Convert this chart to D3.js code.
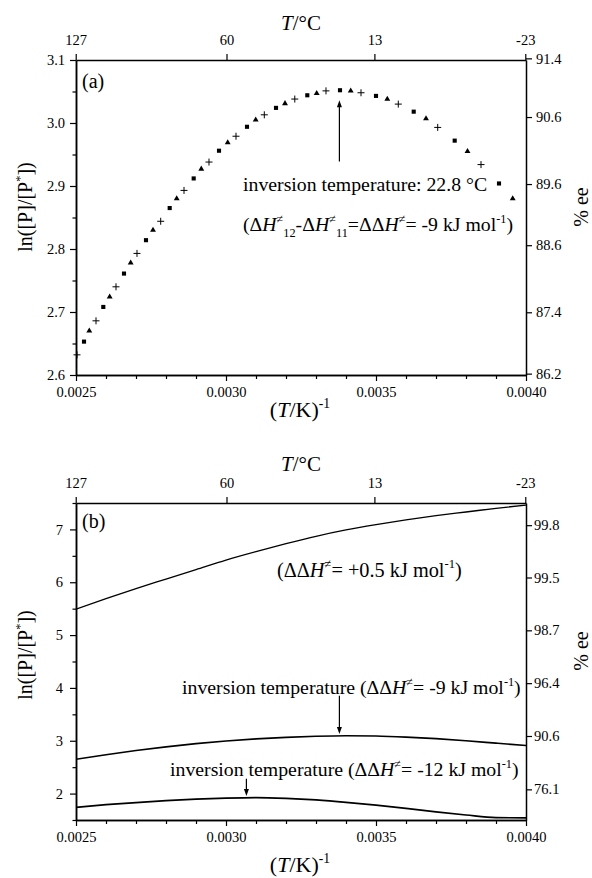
<!DOCTYPE html>
<html><head><meta charset="utf-8">
<script src="https://cdn.jsdelivr.net/npm/d3@7"></script>
<style>
body{margin:0;background:#fff}
svg, svg text, svg tspan{font-family:"Liberation Serif",serif !important;fill:#000}
</style>
</head><body>
<svg id="c" width="592" height="878"></svg>
<script>
// ---------------- DATA ----------------
// x axis: inverse temperature (1/K)
const xMajor = [0.0025, 0.0030, 0.0035, 0.0040];
const xMajorLabels = ["0.0025", "0.0030", "0.0035", "0.0040"];
const topTempC = [127, 60, 13, -23];
const topTempLabels = ["127", "60", "13", "-23"];

// Panel (a): experimental points (1/T, ln([P]/[P*])), marker types cycle
const invTA = [0.0025033,0.0025267,0.0025443,0.0025667,0.002591,0.0026123,0.0026333,0.00266,0.0026823,0.0027033,
  0.0027333,0.0027567,0.0027823,0.0028123,0.0028357,0.00286,0.0028923,0.0029177,0.0029433,0.0029767,
  0.0030057,0.0030333,0.00307,0.003099,0.0031277,0.0031667,0.0031967,0.0032293,0.003271,0.0033023,
  0.0033333,0.00338,0.0034157,0.00345,0.0035,0.0035377,0.0035743,0.0036257,0.0036667,0.0037057,
  0.0037623,0.003805,0.00385,0.00391,0.0039557];
const lnA = [2.632,2.653,2.670,2.686,2.708,2.724,2.740,2.761,2.778,2.793,
  2.814,2.830,2.844,2.865,2.880,2.893,2.912,2.927,2.938,2.956,
  2.969,2.979,2.994,3.005,3.013,3.024,3.031,3.038,3.044,3.047,
  3.051,3.052,3.051,3.048,3.043,3.038,3.030,3.018,3.007,2.993,
  2.972,2.955,2.934,2.904,2.880];
const markerCycle = ["plus", "square", "triangle"];
const yTicksA = [2.6, 2.7, 2.8, 2.9, 3.0, 3.1];
const eeTicksA = [91.4, 90.6, 89.6, 88.6, 87.4, 86.2];

// Panel (b): simulated curves
const invTB = [0.0025,0.0026,0.0027,0.0028,0.0029,0.0030,0.0031,0.0032,0.0033,0.0034,0.0035,0.0036,0.0037,0.0038,0.0039,0.0040];
const lnB_plus05 = [5.49,5.69,5.88,6.06,6.24,6.42,6.58,6.73,6.87,6.99,7.09,7.18,7.26,7.33,7.40,7.46];
const lnB_minus9 = [2.65,2.735,2.815,2.885,2.945,2.995,3.035,3.065,3.085,3.095,3.09,3.07,3.04,3.00,2.955,2.91];
const lnB_minus12 = [1.74,1.79,1.83,1.865,1.895,1.915,1.925,1.91,1.88,1.835,1.78,1.72,1.655,1.595,1.545,1.54];
const yTicksB = [2, 3, 4, 5, 6, 7];
const eeLabelsB = ["99.8", "99.5", "98.7", "96.4", "90.6", "76.1"];
const eeLnB = [7.08, 6.09, 5.09, 4.09, 3.09, 2.08];

// ---------------- DRAW ----------------
const FONT = '"Liberation Serif", serif';
const svg = d3.select("#c");
const L = 76, R = 526;
const x = d3.scaleLinear().domain([0.0025, 0.0040]).range([L, R]);
const xMinor = d3.range(26, 40).map(i => i / 10000).filter(v => !xMajor.some(m => Math.abs(m - v) < 1e-9));
const topTicks = topTempC.map(t => 1 / (t + 273.15));

function styleAxis(sel, fs) {
  sel.attr("font-family", null).attr("font-size", fs);
  sel.select(".domain").attr("stroke", "#000").attr("stroke-width", 1.5);
  sel.selectAll(".tick line").attr("stroke", "#000").attr("stroke-width", 1.2);
  sel.selectAll("text").attr("fill", "#000").style("font-family", FONT).style("font-size", fs + "px");
}

function rich(parent, xp, yp, size, segs, anchor) {
  const t = parent.append("text").attr("x", xp).attr("y", yp).attr("font-size", size).style("font-family", FONT);
  if (anchor) t.attr("text-anchor", anchor);
  let off = 0;
  segs.forEach(([s, k]) => {
    const target = k === "sup" ? -0.42 * size : k === "sub" ? 0.28 * size : 0;
    const ts = t.append("tspan").text(s).attr("dy", target - off);
    off = target;
    if (k === "sup" || k === "sub") ts.attr("font-size", size * 0.62);
    if (k === "i") ts.attr("font-style", "italic");
  });
  return t;
}

function frame(y, top, bottom, yTicks, yMinor, yPad, rightTicks, rightLabels, rightPad, yFmt) {
  const g = svg.append("g");
  g.append("g").attr("transform", `translate(0,${bottom})`)
    .call(d3.axisBottom(x).tickValues(xMinor).tickFormat("").tickSize(4).tickSizeOuter(0))
    .call(s => styleAxis(s, 14.5));
  g.append("g").attr("transform", `translate(0,${bottom})`)
    .call(d3.axisBottom(x).tickValues(xMajor).tickFormat((d, i) => xMajorLabels[i]).tickSize(6).tickPadding(6).tickSizeOuter(0))
    .call(s => styleAxis(s, 14.5));
  g.append("g").attr("transform", `translate(0,${top})`)
    .call(d3.axisTop(x).tickValues(topTicks).tickFormat((d, i) => topTempLabels[i]).tickSize(6).tickPadding(9).tickSizeOuter(0))
    .call(s => styleAxis(s, 14.5));
  g.append("g").attr("transform", `translate(${L},0)`)
    .call(d3.axisLeft(y).tickValues(yMinor).tickFormat("").tickSize(3.5).tickSizeOuter(0))
    .call(s => styleAxis(s, 14.5));
  g.append("g").attr("transform", `translate(${L},0)`)
    .call(d3.axisLeft(y).tickValues(yTicks).tickFormat(d3.format(yFmt)).tickSize(6).tickPadding(yPad).tickSizeOuter(0))
    .call(s => styleAxis(s, 14.5));
  g.append("g").attr("transform", `translate(${R},0)`)
    .call(d3.axisRight(y).tickValues(rightTicks).tickFormat((d, i) => rightLabels[i]).tickSize(6).tickPadding(rightPad).tickSizeOuter(0))
    .call(s => styleAxis(s, 14.5));
  return g;
}

function arrow(g, ys, a) {
  const xp = x(a.x), y0 = ys(a.from), y1 = ys(a.to);
  const dir = y1 < y0 ? 1 : -1;
  g.append("line").attr("x1", xp).attr("x2", xp).attr("y1", y0).attr("y2", y1 + dir * 5)
    .attr("stroke", "#000").attr("stroke-width", 1.2);
  g.append("path").attr("d", `M${xp},${y1}L${xp - 2.5},${y1 + dir * 7}L${xp + 2.5},${y1 + dir * 7}Z`).attr("fill", "#000");
}

// ---------- Panel (a) ----------
const ya = d3.scaleLinear().domain([2.6, 3.1]).range([375, 60]);
const eeToLn = e => Math.log((100 + e) / (100 - e));
const yMinorA = [2.65, 2.75, 2.85, 2.95, 3.05];
frame(ya, 60, 375, yTicksA, yMinorA, 5, eeTicksA.map(eeToLn), eeTicksA.map(d => d.toFixed(1)), 4, ".1f");

const ptsA = invTA.map((v, i) => ({ x: v, y: lnA[i], m: markerCycle[i % 3] }));
const gA = svg.append("g");
gA.selectAll("path.pt").data(ptsA).join("path")
  .attr("class", "pt")
  .attr("transform", d => `translate(${x(d.x)},${ya(d.y)})`)
  .attr("d", d => d.m === "square" ? d3.symbol(d3.symbolSquare, 17)() :
                  d.m === "triangle" ? d3.symbol(d3.symbolTriangle, 15)() :
                  "M-3.5,0H3.5M0,-3.5V3.5")
  .attr("fill", d => d.m === "plus" ? "none" : "#000")
  .attr("stroke", d => d.m === "plus" ? "#000" : "none")
  .attr("stroke-width", 1);

const arrowA = { x: 0.003378, from: 2.939, to: 3.036 };
arrow(gA, ya, arrowA);

const TS = 19.8;
svg.append("text").attr("x", 82).attr("y", 88).attr("font-size", 20).style("font-family", FONT).text("(a)");
rich(svg, 243, 191, TS, [["inversion temperature: 22.8 °C", "n"]]);
rich(svg, 243, 231, TS, [["(Δ", "n"], ["H", "i"], ["≠", "sup"], ["12", "sub"], ["-Δ", "n"], ["H", "i"], ["≠", "sup"], ["11", "sub"],
  ["=ΔΔ", "n"], ["H", "i"], ["≠", "sup"], ["= -9 kJ mol", "n"], ["-1", "sup"], [")", "n"]]);

rich(svg, 301, 30, 21, [["T", "i"], ["/°C", "n"]], "middle");
rich(svg, 300, 417, 22, [["(", "n"], ["T", "i"], ["/K)", "n"], ["-1", "sup"]], "middle");
rich(svg.append("g").attr("transform", "translate(32,207) rotate(-90)"), 0, 0, 20, [["ln([P]/[P", "n"], ["*", "sup"], ["])", "n"]], "middle");
rich(svg.append("g").attr("transform", "translate(588,207) rotate(-90)"), 0, 0, 20, [["% ee", "n"]], "middle");

// ---------- Panel (b) ----------
const yb = d3.scaleLinear().domain([1.5, 7.5]).range([820, 503]);
const yMinorB = [1.5, 2.5, 3.5, 4.5, 5.5, 6.5, 7.5];
frame(yb, 503, 820, yTicksB, yMinorB, 7, eeLnB, eeLabelsB, 2, "d");

svg.append("clipPath").attr("id", "clipB").append("rect").attr("x", L).attr("y", 503).attr("width", R - L).attr("height", 317);
const gB = svg.append("g").attr("clip-path", "url(#clipB)");
const line = d3.line().x(d => x(d[0])).y(d => yb(d[1])).curve(d3.curveMonotoneX);
[lnB_plus05, lnB_minus9, lnB_minus12].forEach((s, k) => {
  gB.append("path").datum(invTB.map((v, i) => [v, s[i]]))
    .attr("d", line).attr("fill", "none").attr("stroke", "#000").attr("stroke-width", k === 0 ? 1.3 : 1.7);
});
const arrowsB = [{ x: 0.003378, from: 3.85, to: 3.13 }, { x: 0.003068, from: 2.28, to: 1.955 }];
arrowsB.forEach(a => arrow(svg, yb, a));

svg.append("text").attr("x", 82).attr("y", 528).attr("font-size", 20).style("font-family", FONT).text("(b)");
rich(svg, 277, 577, 20.3, [["(ΔΔ", "n"], ["H", "i"], ["≠", "sup"], ["= +0.5 kJ mol", "n"], ["-1", "sup"], [")", "n"]]);
rich(svg, 182, 694, TS, [["inversion temperature (ΔΔ", "n"], ["H", "i"], ["≠", "sup"], ["= -9 kJ mol", "n"], ["-1", "sup"], [")", "n"]]);
rich(svg, 170, 776, TS, [["inversion temperature (ΔΔ", "n"], ["H", "i"], ["≠", "sup"], ["= -12 kJ mol", "n"], ["-1", "sup"], [")", "n"]]);

rich(svg, 301, 471, 21, [["T", "i"], ["/°C", "n"]], "middle");
rich(svg, 300, 872, 22, [["(", "n"], ["T", "i"], ["/K)", "n"], ["-1", "sup"]], "middle");
rich(svg.append("g").attr("transform", "translate(32,655) rotate(-90)"), 0, 0, 20, [["ln([P]/[P", "n"], ["*", "sup"], ["])", "n"]], "middle");
rich(svg.append("g").attr("transform", "translate(588,651) rotate(-90)"), 0, 0, 20, [["% ee", "n"]], "middle");
</script>
</body></html>
